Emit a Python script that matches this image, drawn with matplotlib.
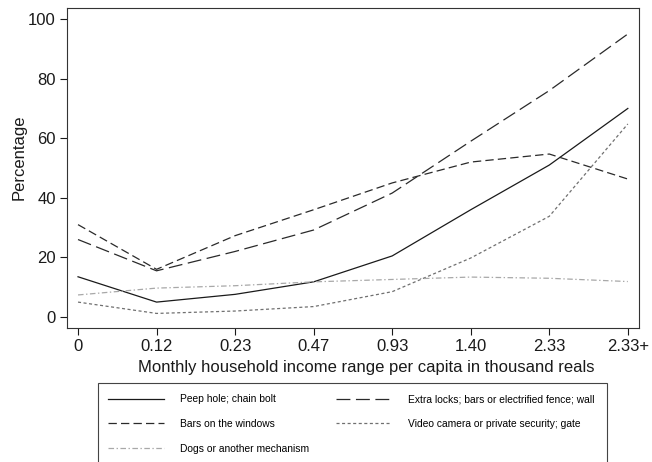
import matplotlib.pyplot as plt
from matplotlib.patches import Rectangle

plt.rcParams['font.family'] = ['Liberation Sans', 'DejaVu Sans']
plt.rcParams['lines.scale_dashes'] = False

# income ranges (thousand reals)
income = ['0', '0.12', '0.23', '0.47', '0.93', '1.40', '2.33', '2.33+']

peep_hole = [13.5, 5.0, 7.6, 11.8, 20.5, 36.0, 51.0, 70.0]
extra_locks = [26.0, 15.5, 22.0, 29.2, 41.6, 59.0, 76.0, 95.0]
bars_windows = [31.0, 16.0, 27.3, 36.0, 45.0, 52.0, 54.7, 46.3]
video_camera = [5.0, 1.2, 2.0, 3.5, 8.5, 19.8, 33.8, 64.8]
dogs_other = [7.4, 9.7, 10.5, 11.8, 12.6, 13.4, 13.0, 11.9]

labels = ['Peep hole; chain bolt', 'Extra locks; bars or electrified fence; wall',
          'Bars on the windows', 'Video camera or private security; gate',
          'Dogs or another mechanism']

fig = plt.figure(figsize=(6.52, 4.62), dpi=100)
ax = fig.add_axes([0.1028, 0.290, 0.877, 0.6926])

x = range(len(income))
l1, = ax.plot(x, peep_hole, color='#1a1a1a', lw=0.9, ls='-')
l2, = ax.plot(x, extra_locks, color='#2a2a2a', lw=0.9, dashes=(10, 4))
l3, = ax.plot(x, bars_windows, color='#2a2a2a', lw=0.9, dashes=(6, 3))
l4, = ax.plot(x, video_camera, color='#707070', lw=0.9, dashes=(2.2, 1.8))
l5, = ax.plot(x, dogs_other, color='#a8a8a8', lw=0.9, dashes=(4, 1.8, 1, 1.8))

ax.set_xlim(-0.14, 7.14)
ax.set_ylim(-3.7, 103.7)
ax.set_xticks(list(x))
ax.set_xticklabels(income)
ax.set_yticks([0, 20, 40, 60, 80, 100])
ax.tick_params(labelsize=12, length=5, width=0.8, colors='#1a1a1a', pad=3)
for s in ax.spines.values():
    s.set_linewidth(0.8)
    s.set_color('#333333')

ax.set_ylabel('Percentage', fontsize=12, color='#1a1a1a', labelpad=1)
ax.set_xlabel('Monthly household income range per capita in thousand reals',
              fontsize=12, color='#1a1a1a', labelpad=4)
ax.xaxis.label.set_x(0.523)
ax.yaxis.label.set_y(0.534)

# legend box (bottom edge runs off the figure)
fig.patches.append(Rectangle((98 / 652, -0.02), (607 - 98) / 652, (462 - 383) / 462 + 0.02,
                             transform=fig.transFigure, fill=False,
                             edgecolor='#444444', lw=0.8))
# matplotlib fills legend columns first, so reorder to get row-wise layout
order = [0, 2, 4, 1, 3]
handles = [l1, l2, l3, l4, l5]
fig.legend([handles[i] for i in order], [labels[i] for i in order],
           ncol=2, frameon=False,
           loc='upper left', bbox_to_anchor=(104 / 652, 1 - 390 / 462),
           fontsize=7.4, handlelength=5.4, handletextpad=1.6,
           columnspacing=2.6, labelspacing=1.45, borderaxespad=0)

fig.savefig('out.png', dpi=100)
